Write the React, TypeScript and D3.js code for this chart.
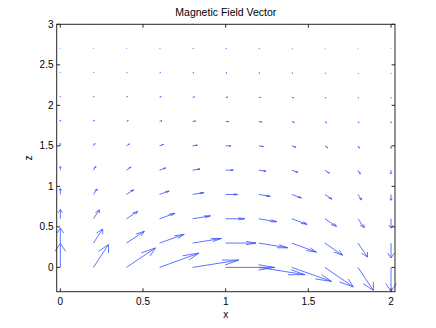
import React from "react";
import * as d3 from "d3";

const W = 436;
const H = 328;

const xGrid = [0, 0.2, 0.4, 0.6, 0.8, 1.0, 1.2, 1.4, 1.6, 1.8, 2.0];
const zGrid = [0, 0.3, 0.6, 0.9, 1.2, 1.5, 1.8, 2.1, 2.4, 2.7, 3.0];

// drawn vector components (data units), one row per z level
const uRows = [
  [0, 0.091, 0.175, 0.238, 0.279, 0.296, 0.279, 0.240, 0.172, 0.093, 0],
  [0, 0.056, 0.108, 0.149, 0.174, 0.184, 0.175, 0.149, 0.107, 0.058, 0],
  [0, 0.036, 0.068, 0.093, 0.108, 0.115, 0.109, 0.093, 0.070, 0.037, 0],
  [0, 0.022, 0.043, 0.058, 0.068, 0.072, 0.069, 0.058, 0.043, 0.022, 0],
  [0, 0.014, 0.027, 0.037, 0.044, 0.046, 0.044, 0.037, 0.027, 0.014, 0],
  [0, 0.009, 0.018, 0.024, 0.028, 0.030, 0.028, 0.024, 0.018, 0.009, 0],
  [0, 0.006, 0.011, 0.015, 0.018, 0.019, 0.018, 0.015, 0.011, 0.006, 0],
  [0, 0.004, 0.007, 0.010, 0.011, 0.012, 0.011, 0.010, 0.007, 0.004, 0],
  [0, 0.0025, 0.005, 0.0065, 0.0075, 0.008, 0.0075, 0.0065, 0.005, 0.0025, 0],
  [0, 0.0015, 0.003, 0.004, 0.0048, 0.005, 0.0048, 0.004, 0.003, 0.0015, 0],
  [0, 0.001, 0.002, 0.0026, 0.003, 0.0032, 0.003, 0.0026, 0.002, 0.001, 0],
];
const vRows = [
  [0.296, 0.281, 0.240, 0.176, 0.090, 0, -0.090, -0.173, -0.241, -0.284, -0.296],
  [0.185, 0.174, 0.146, 0.108, 0.057, 0, -0.058, -0.112, -0.150, -0.173, -0.184],
  [0.114, 0.110, 0.092, 0.068, 0.036, 0, -0.037, -0.069, -0.094, -0.110, -0.115],
  [0.073, 0.068, 0.058, 0.042, 0.022, 0, -0.023, -0.043, -0.058, -0.068, -0.072],
  [0.046, 0.044, 0.037, 0.027, 0.014, 0, -0.014, -0.027, -0.037, -0.044, -0.046],
  [0.030, 0.028, 0.024, 0.018, 0.009, 0, -0.009, -0.018, -0.024, -0.028, -0.030],
  [0.019, 0.018, 0.015, 0.011, 0.006, 0, -0.006, -0.011, -0.015, -0.018, -0.019],
  [0.012, 0.011, 0.010, 0.007, 0.004, 0, -0.004, -0.007, -0.010, -0.011, -0.012],
  [0.008, 0.0075, 0.0065, 0.005, 0.0025, 0, -0.0025, -0.005, -0.0065, -0.0075, -0.008],
  [0.005, 0.0048, 0.004, 0.003, 0.0015, 0, -0.0015, -0.003, -0.004, -0.0048, -0.005],
  [0.0032, 0.003, 0.0026, 0.002, 0.001, 0, -0.001, -0.002, -0.0026, -0.003, -0.0032],
];

const xTicks = [0, 0.5, 1, 1.5, 2];
const xTickLabels = ["0", "0.5", "1", "1.5", "2"];
const yTicks = [0, 0.5, 1, 1.5, 2, 2.5, 3];
const yTickLabels = ["0", "0.5", "1", "1.5", "2", "2.5", "3"];

const titleText = "Magnetic Field Vector";
const xLabel = "x";
const yLabel = "z";

const PL = 56.7, PR = 395, PT = 24.3, PB = 291.7;
const FONT = "'Liberation Sans', Arial, Helvetica, sans-serif";
const AX = "#262626";
const ARROW = "#3650ff";

export default function App() {
  const x = d3.scaleLinear().domain([-0.022, 2.024]).range([PL, PR]);
  const y = d3.scaleLinear().domain([-0.3, 3]).range([PB, PT]);
  const alpha = 0.33, beta = 0.33, eps = 1e-12;

  const shafts: string[] = [];
  const heads: string[] = [];
  zGrid.forEach((z, j) => {
    xGrid.forEach((xv, i) => {
      const u = uRows[j][i];
      const v = vRows[j][i];
      const p = d3.path();
      p.moveTo(x(xv), y(z));
      p.lineTo(x(xv + u), y(z + v));
      shafts.push(p.toString());
      const tx = xv + u, ty = z + v;
      const h = d3.path();
      h.moveTo(x(tx - alpha * (u + beta * (v + eps))), y(ty - alpha * (v - beta * (u + eps))));
      h.lineTo(x(tx), y(ty));
      h.lineTo(x(tx - alpha * (u - beta * (v + eps))), y(ty - alpha * (v + beta * (u + eps))));
      heads.push(h.toString());
    });
  });

  const tl = 3.4;
  return (
    <svg width={W} height={H} style={{ position: "absolute", left: 0, top: 0, background: "#fff" }} fontFamily={FONT}>
      <rect x={0} y={0} width={W} height={H} fill="#fff" />
      <g fill="none" stroke={ARROW} strokeWidth={0.8}>
        {shafts.map((d, k) => <path key={"s" + k} d={d} />)}
        {heads.map((d, k) => <path key={"h" + k} d={d} />)}
      </g>
      <rect x={PL} y={PT} width={PR - PL} height={PB - PT} fill="none" stroke={AX} strokeWidth={1} />
      <g stroke={AX} strokeWidth={1}>
        {xTicks.map((t, k) => (
          <g key={"xt" + k}>
            <line x1={x(t)} x2={x(t)} y1={PB} y2={PB - tl} />
            <line x1={x(t)} x2={x(t)} y1={PT} y2={PT + tl} />
          </g>
        ))}
        {yTicks.map((t, k) => (
          <g key={"yt" + k}>
            <line x1={PL} x2={PL + tl} y1={y(t)} y2={y(t)} />
            <line x1={PR} x2={PR - tl} y1={y(t)} y2={y(t)} />
          </g>
        ))}
      </g>
      <g fontSize={10} fill="#000">
        {xTicks.map((t, k) => (
          <text key={"xl" + k} x={x(t)} y={305} textAnchor="middle">{xTickLabels[k]}</text>
        ))}
        {yTicks.map((t, k) => (
          <text key={"yl" + k} x={53.5} y={y(t) + 3.6} textAnchor="end">{yTickLabels[k]}</text>
        ))}
        <text x={(PL + PR) / 2} y={318} textAnchor="middle">{xLabel}</text>
        <text transform={`translate(32,${(PT + PB) / 2}) rotate(-90)`} textAnchor="middle">{yLabel}</text>
        <text x={(PL + PR) / 2} y={16} textAnchor="middle" fontSize={10.5}>{titleText}</text>
      </g>
    </svg>
  );
}
